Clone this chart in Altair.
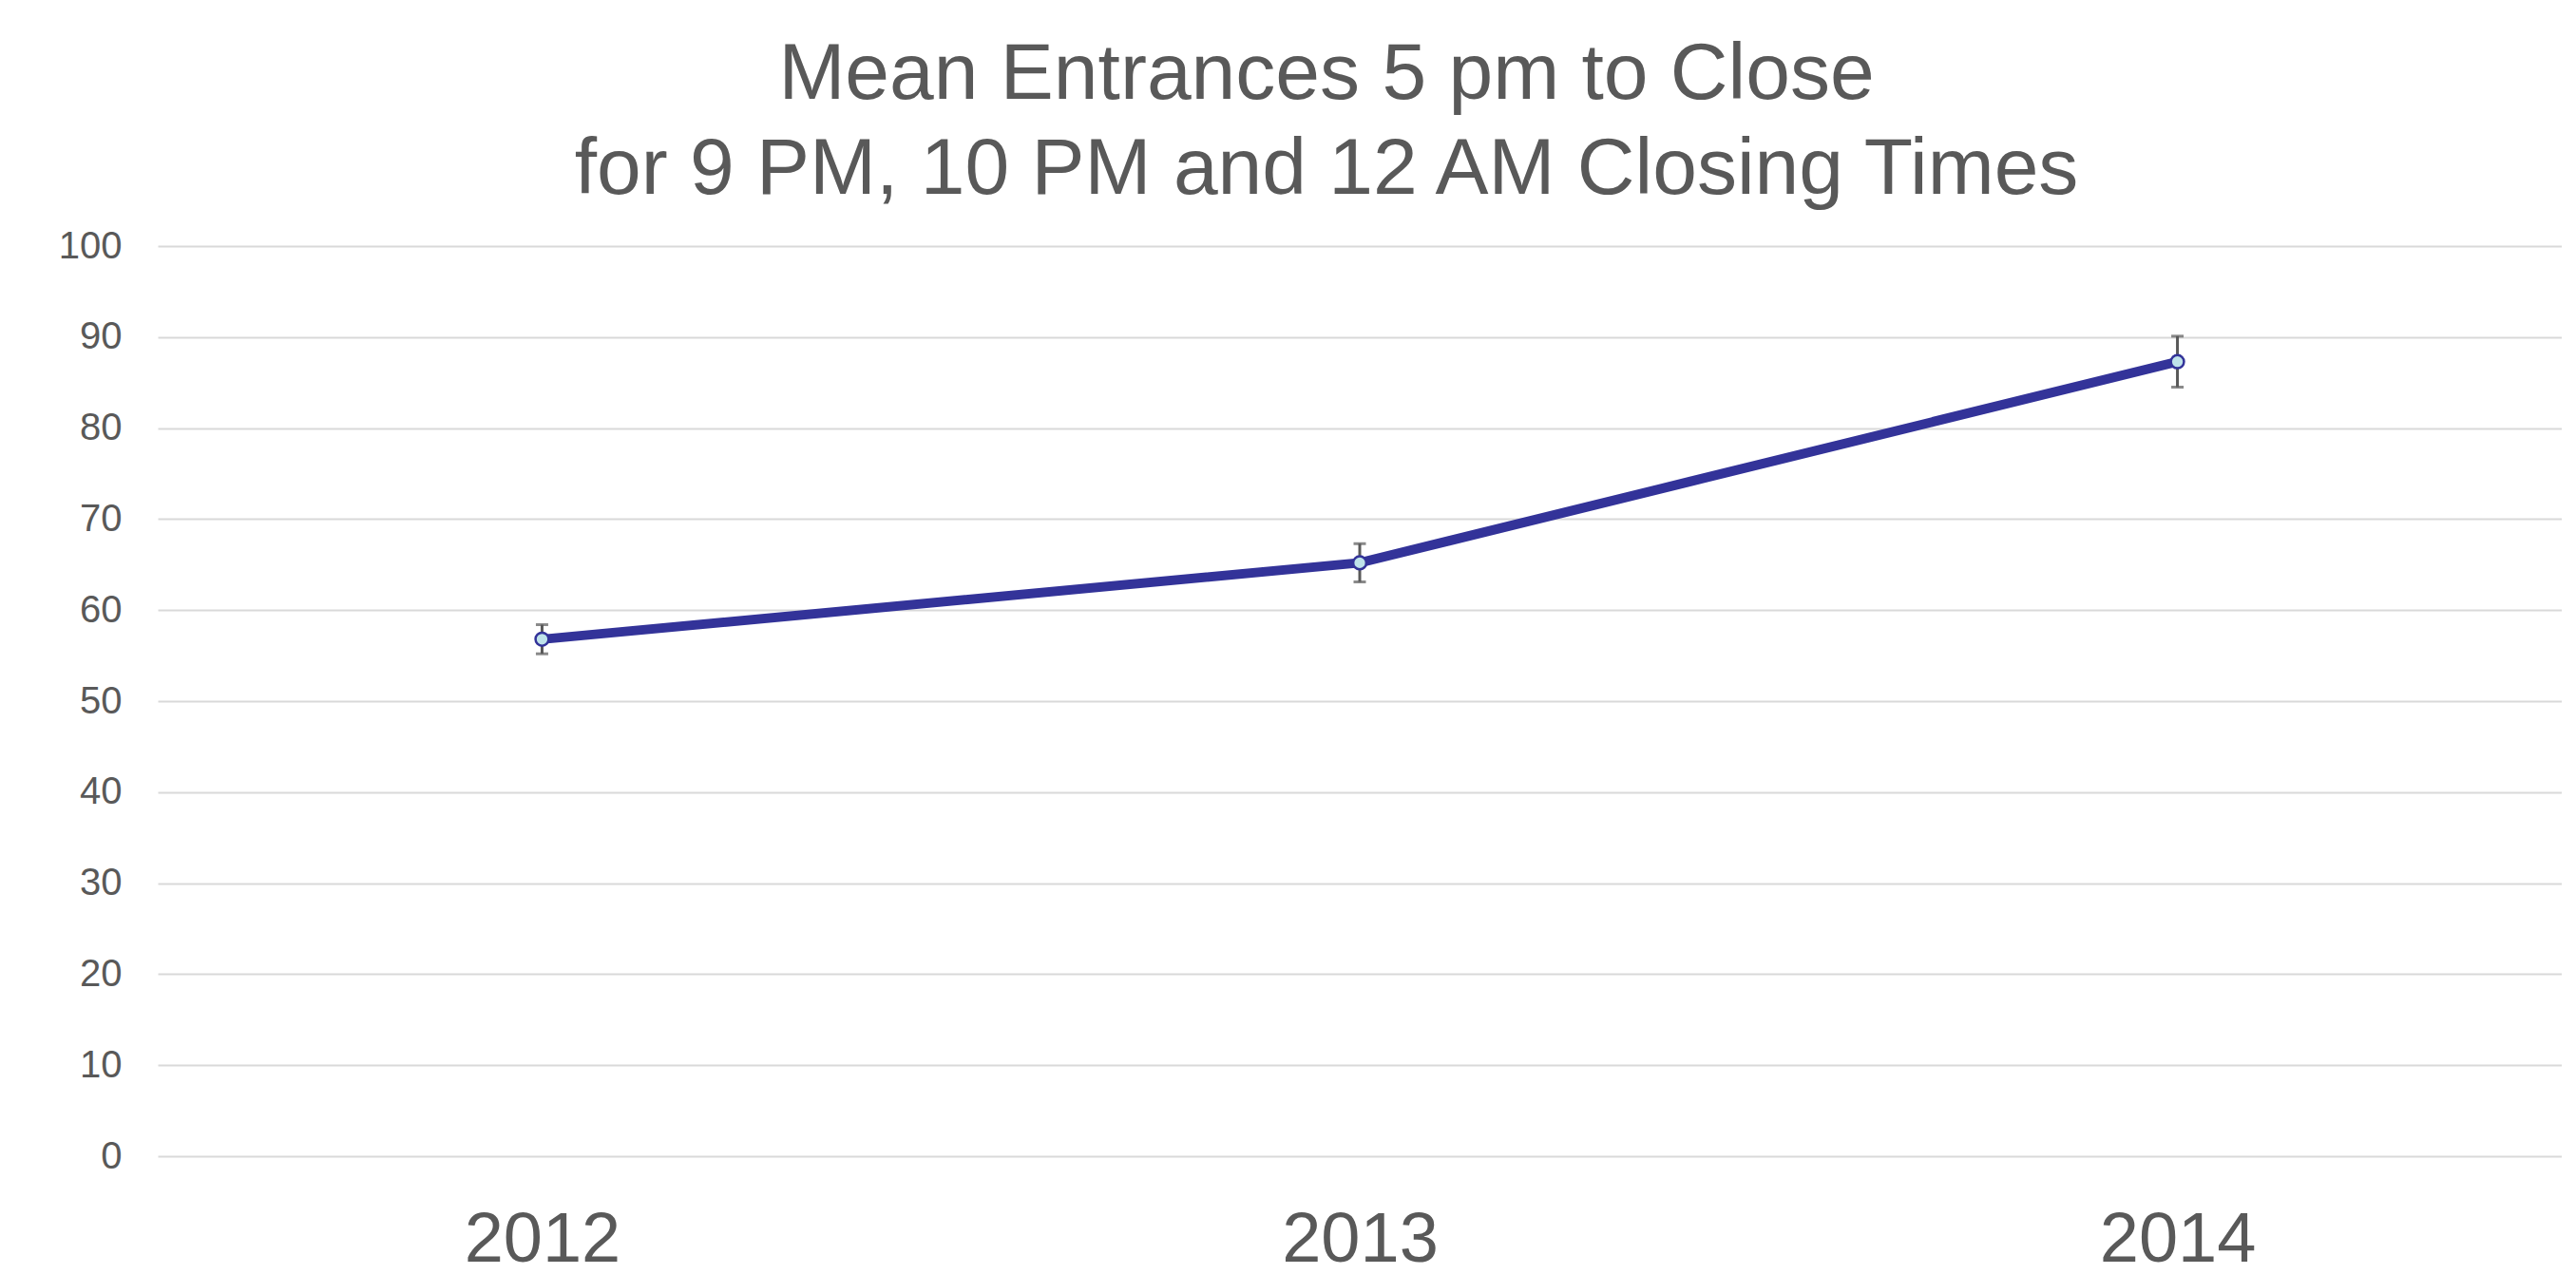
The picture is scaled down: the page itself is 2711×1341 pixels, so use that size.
import altair as alt
import pandas as pd

years = ["2012", "2013", "2014"]
means = [56.8, 65.2, 87.3]
err_low = [55.2, 63.1, 84.5]
err_high = [58.4, 67.3, 90.1]

df = pd.DataFrame({"year": years, "mean": means, "lo": err_low, "hi": err_high})

TEXT = "#595959"
LINE = "#333399"

x_enc = alt.X(
    "year:O",
    scale=alt.Scale(type="point", padding=0.47),
    axis=alt.Axis(
        title=None, labelAngle=0, labelFontSize=74, labelColor=TEXT,
        labelFont="Liberation Sans", ticks=False, domain=False, grid=False,
        labelPadding=52,
    ),
)
y_scale = alt.Scale(domain=[0, 100])
y_axis = alt.Axis(
    title=None, values=list(range(0, 101, 10)), labelFontSize=40, labelColor=TEXT,
    labelFont="Liberation Sans", ticks=False, domain=False, grid=True,
    gridColor="#D9D9D9", gridWidth=2, labelPadding=38,
)

base = alt.Chart(df)

err_rule = base.mark_rule(color=TEXT, strokeWidth=3).encode(
    x=x_enc, y=alt.Y("lo:Q", scale=y_scale, axis=y_axis), y2="hi:Q"
)
cap_lo = base.mark_tick(color=TEXT, size=13, thickness=3).encode(
    x=x_enc, y=alt.Y("lo:Q", scale=y_scale)
)
cap_hi = base.mark_tick(color=TEXT, size=13, thickness=3).encode(
    x=x_enc, y=alt.Y("hi:Q", scale=y_scale)
)
line = base.mark_line(color=LINE, strokeWidth=10).encode(
    x=x_enc, y=alt.Y("mean:Q", scale=y_scale)
)
pts = base.mark_point(
    shape="circle", filled=True, fill="#BFE3EA", stroke=LINE, strokeWidth=2.5,
    size=190, opacity=1,
).encode(x=x_enc, y=alt.Y("mean:Q", scale=y_scale))

chart = (
    alt.layer(err_rule, cap_lo, cap_hi, line, pts)
    .properties(
        width=2530,
        height=958,
        padding={"left": 53, "top": 29, "right": 0, "bottom": 0},
        title=alt.TitleParams(
            text=["Mean Entrances 5 pm to Close", "for 9 PM, 10 PM and 12 AM Closing Times"],
            fontSize=84, font="Liberation Sans", fontWeight="normal", color=TEXT,
            lineHeight=100, anchor="middle", offset=17, dx=-35,
        ),
        background="white",
    )
    .configure_view(stroke=None)
)

chart.save("out.html", embed_options={"renderer": "svg", "actions": False})
